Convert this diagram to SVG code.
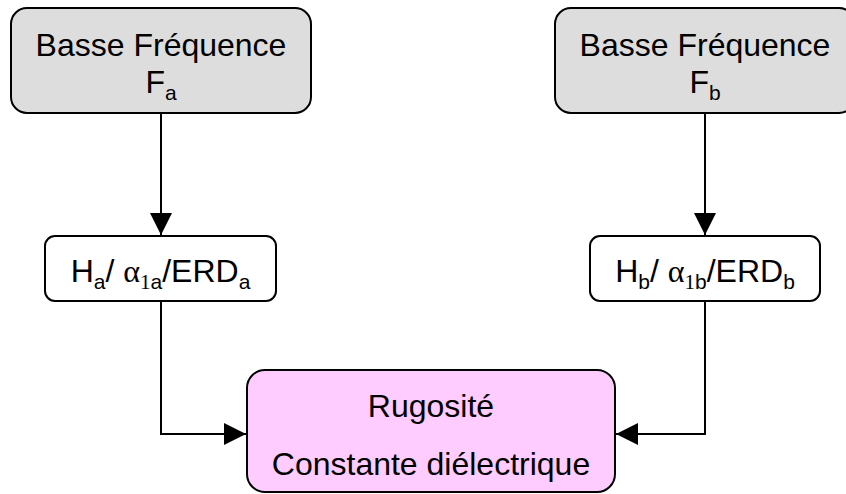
<svg xmlns="http://www.w3.org/2000/svg" width="846" height="494" viewBox="0 0 846 494">
<style>
.box{stroke:#000;stroke-width:2}
.gray{fill:#dddddd}
.white{fill:#ffffff}
.pink{fill:#ffccff}
.t{font-family:"Liberation Sans",Arial,sans-serif;font-size:32px;fill:#000;text-anchor:middle}
.sub{font-size:21px}
.serif{font-family:"Liberation Serif","Times New Roman",serif}
.conn{fill:none;stroke:#000;stroke-width:2}
</style>
<defs>
<marker id="arr" markerUnits="userSpaceOnUse" markerWidth="22" markerHeight="22" viewBox="0 0 20 20" refX="20" refY="10" orient="auto">
<path d="M0,0 L20,10 L0,20 Z" fill="#000"/>
</marker>
</defs>
<g id="connectors">
<path class="conn" d="M161,113 V235" marker-end="url(#arr)"/>
<path class="conn" d="M705,113 V235" marker-end="url(#arr)"/>
<path class="conn" d="M161,301 V434 H246" marker-end="url(#arr)"/>
<path class="conn" d="M705,301 V434 H616" marker-end="url(#arr)"/>
</g>
<g id="node-fa">
<rect class="box gray" x="11" y="8" width="300" height="105" rx="16"/>
<text class="t" x="161" y="56">Basse Fréquence</text>
<text class="t" x="161" y="93">F<tspan class="sub" dy="7">a</tspan></text>
</g>
<g id="node-fb">
<rect class="box gray" x="555" y="8" width="300" height="105" rx="16"/>
<text class="t" x="705" y="56">Basse Fréquence</text>
<text class="t" x="705" y="93">F<tspan class="sub" dy="7">b</tspan></text>
</g>
<g id="node-ha">
<rect class="box white" x="45" y="236" width="231" height="65" rx="10"/>
<text class="t" x="160.5" y="282">H<tspan class="sub" dy="7">a</tspan><tspan dy="-7">/ </tspan><tspan class="serif">α</tspan><tspan class="sub serif" dy="7">1</tspan><tspan class="sub">a</tspan><tspan dy="-7">/ERD</tspan><tspan class="sub" dy="7">a</tspan></text>
</g>
<g id="node-hb">
<rect class="box white" x="590" y="236" width="230" height="65" rx="10"/>
<text class="t" x="705" y="282">H<tspan class="sub" dy="7">b</tspan><tspan dy="-7">/ </tspan><tspan class="serif">α</tspan><tspan class="sub serif" dy="7">1</tspan><tspan class="sub">b</tspan><tspan dy="-7">/ERD</tspan><tspan class="sub" dy="7">b</tspan></text>
</g>
<g id="node-result">
<rect class="box pink" x="247" y="370" width="368" height="122" rx="18"/>
<text class="t" x="431" y="417">Rugosité</text>
<text class="t" x="431" y="475">Constante diélectrique</text>
</g>
</svg>
